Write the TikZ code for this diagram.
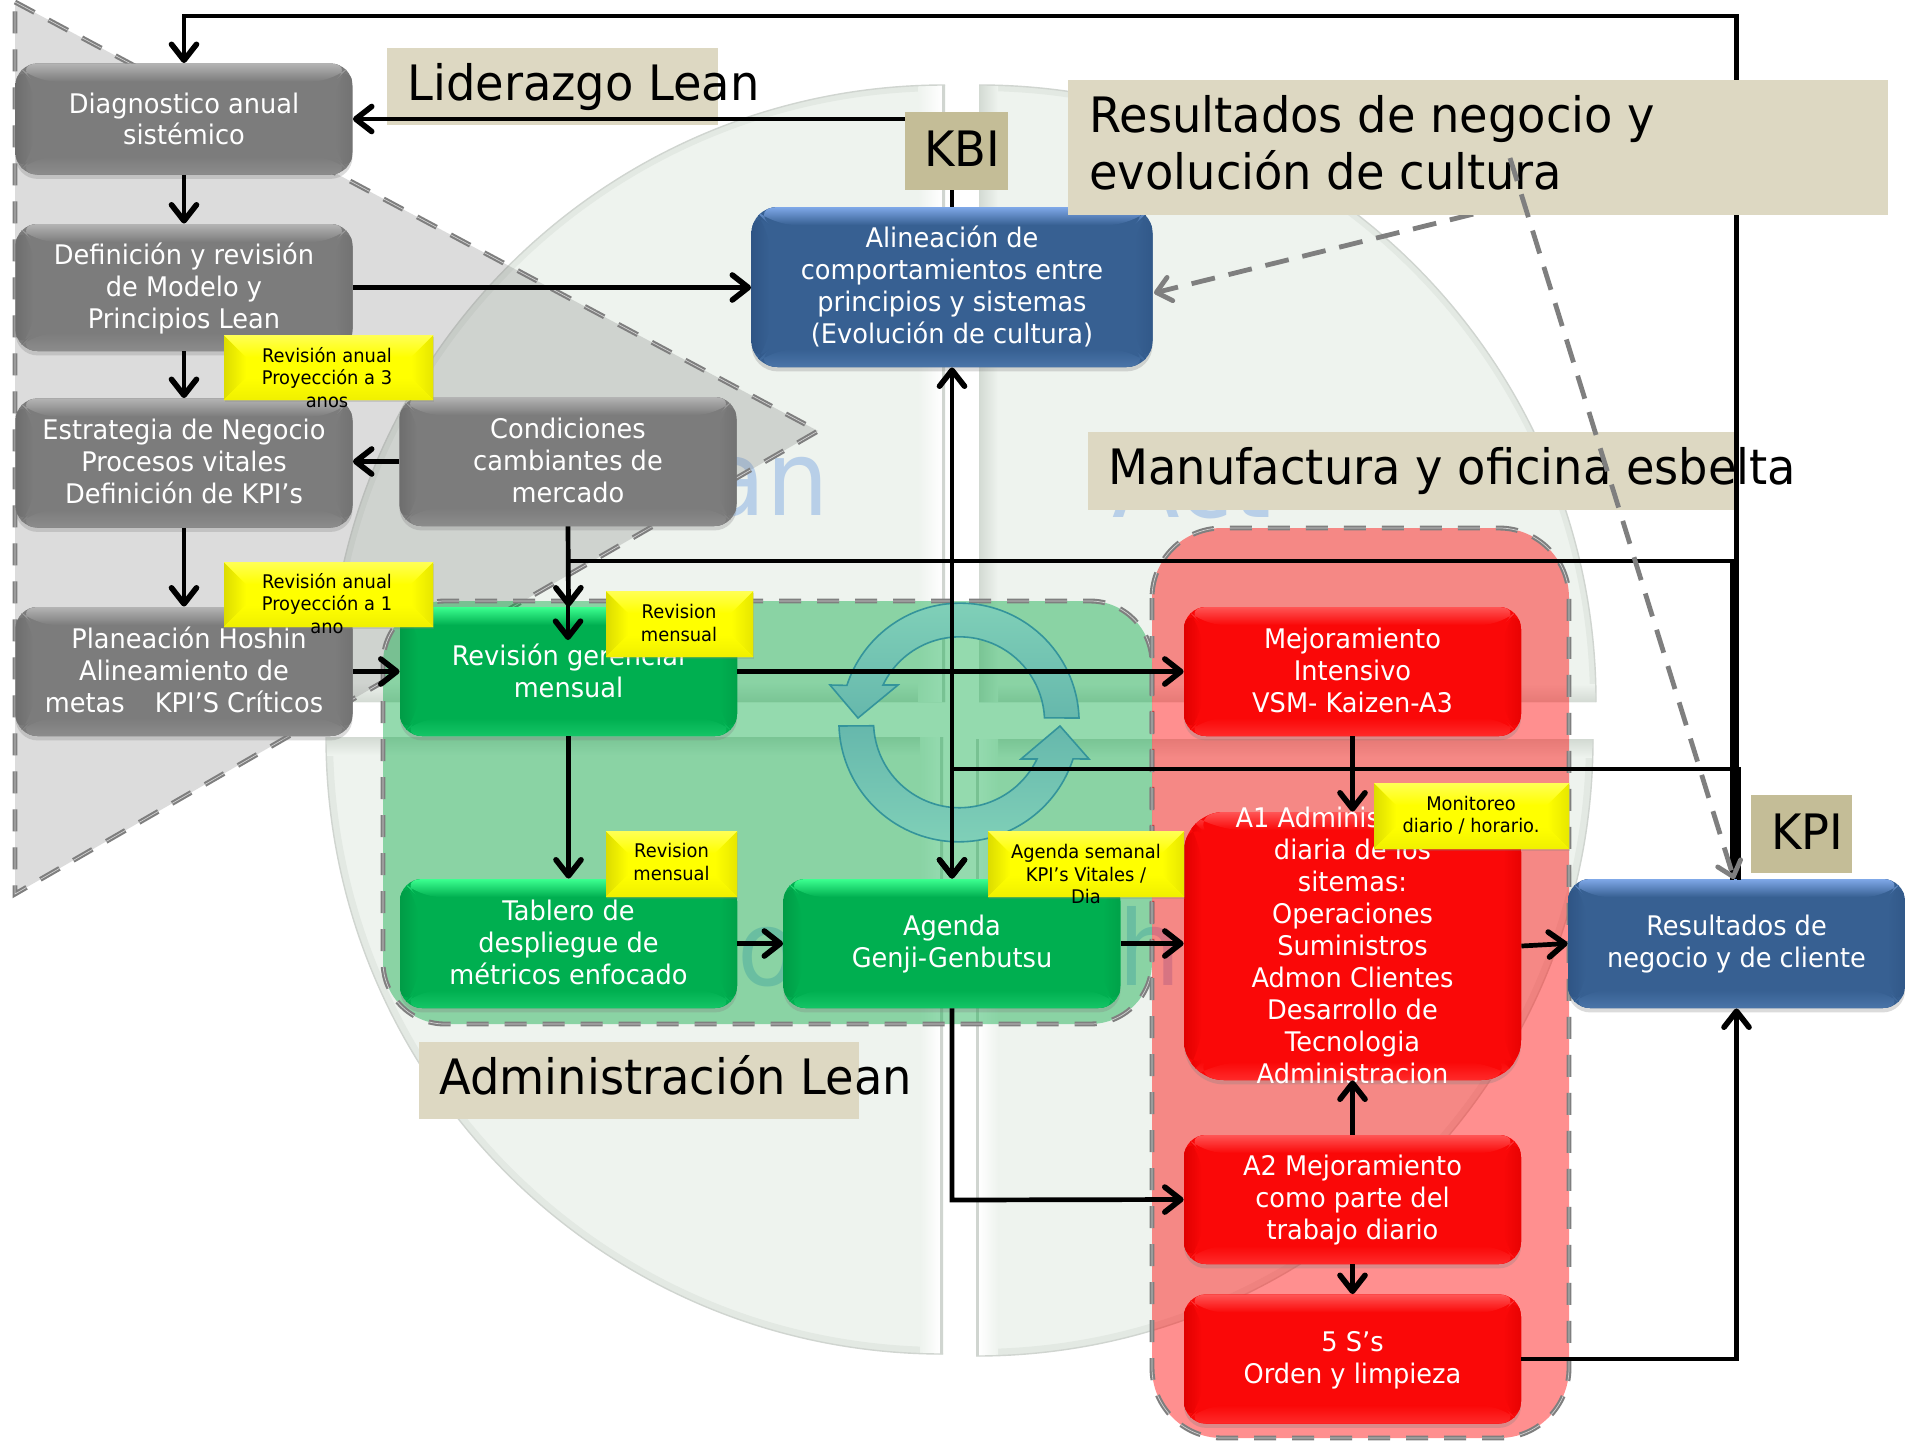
\documentclass[tikz,border=0pt]{standalone}
\usepackage{fontspec}
\setmainfont[FakeStretch=0.95]{DejaVu Sans}
\usetikzlibrary{arrows.meta,shadows,calc}
\definecolor{qf}{HTML}{EEF3EE}
\definecolor{qedge}{HTML}{D0D5D0}
\definecolor{qband}{HTML}{D3DAD3}
\definecolor{faint}{HTML}{B8CFE8}
\definecolor{dashgray}{HTML}{7F7F7F}
\definecolor{lab}{HTML}{DDD8C2}
\definecolor{kab}{HTML}{C4BD97}
\definecolor{grayB}{HTML}{7C7C7C}\definecolor{grayT}{HTML}{B4B4B4}\definecolor{grayS}{HTML}{6E6E6E}\definecolor{grayU}{HTML}{8C8C8C}
\definecolor{blueB}{HTML}{376092}\definecolor{blueT}{HTML}{7FA8E8}\definecolor{blueS}{HTML}{2F5585}\definecolor{blueU}{HTML}{4A74A8}
\definecolor{greenB}{HTML}{00AF50}\definecolor{greenT}{HTML}{3CFF90}\definecolor{greenS}{HTML}{009C46}\definecolor{greenU}{HTML}{14C566}
\definecolor{redB}{HTML}{FA0808}\definecolor{redT}{HTML}{FF5555}\definecolor{redS}{HTML}{E00000}\definecolor{redU}{HTML}{FF2A2A}
\definecolor{yelB}{HTML}{FFFF00}\definecolor{yelT}{HTML}{FFFF55}\definecolor{yelS}{HTML}{DCDC00}\definecolor{yelU}{HTML}{F0F000}
% text block of #1 lines, centred on the node, moved up by #2 pt
\newcommand\bt[3]{\smash{\raisebox{\dimexpr#2pt-3.2pt+8pt*\numexpr#1-1\relax\relax}{\begin{tabular}[t]{@{}c@{}}#3\end{tabular}}}}
\tikzset{
  bevel/.style n args={5}{path picture={
    \coordinate (nw) at (path picture bounding box.north west);
    \coordinate (ne) at (path picture bounding box.north east);
    \coordinate (sw) at (path picture bounding box.south west);
    \coordinate (se) at (path picture bounding box.south east);
    \fill[left color=#3,right color=#1] (nw)--(sw)--([shift={(#5,#5)}]sw)--([shift={(#5,-#5)}]nw)--cycle;
    \fill[right color=#3!70!#1,left color=#1] (ne)--(se)--([shift={(-#5,#5)}]se)--([shift={(-#5,-#5)}]ne)--cycle;
    \fill[top color=#2,bottom color=#1] (nw)--(ne)--([shift={(-#5,-#5)}]ne)--([shift={(#5,-#5)}]nw)--cycle;
    \fill[bottom color=#4,top color=#1] (sw)--(se)--([shift={(-#5,#5)}]se)--([shift={(#5,#5)}]sw)--cycle;
  }},
  boxbase/.style={rounded corners=11pt,minimum width=168.5pt,minimum height=64.5pt,inner sep=0pt,
    text=white,font=\fontsize{13.5}{16}\selectfont,
    drop shadow={opacity=.28,shadow xshift=0pt,shadow yshift=-2.2pt}},
  graybox/.style={boxbase,fill=grayB,bevel={grayB}{grayT}{grayS}{grayU}{9pt}},
  bluebox/.style={boxbase,fill=blueB,bevel={blueB}{blueT}{blueS}{blueU}{9pt}},
  greenbox/.style={boxbase,fill=greenB,bevel={greenB}{greenT}{greenS}{greenU}{9pt}},
  redbox/.style={boxbase,fill=redB,bevel={redB}{redT}{redS}{redU}{9pt}},
  notebox/.style={rectangle,fill=yelB,inner sep=0pt,bevel={yelB}{yelT}{yelS}{yelU}{11pt},
    drop shadow={opacity=.25,shadow xshift=.6pt,shadow yshift=-.8pt}},
  notetext/.style={align=center,inner sep=0pt,font=\fontsize{9.4}{11.25}\selectfont,text=black},
  labelbox/.style={rectangle,fill=lab,inner sep=0pt},
  keybox/.style={rectangle,fill=kab,inner sep=0pt,font=\fontsize{24.4}{28.5}\selectfont},
  bigtext/.style={inner sep=0pt,align=left,font=\fontsize{24.4}{28.5}\selectfont,text=black},
  faintword/.style={inner sep=0pt,text=faint,font=\fontsize{52}{60}\selectfont},
  regionedge/.style={draw=dashgray,line width=1.05pt,double=black!18,double distance=.35pt,dash pattern=on 11pt off 8pt},
  headtip/.tip={Straight Barb[length=8pt,width=12.5pt,round,line width=2.8pt]},
  conn/.style={draw=black,line width=2.35pt,-headtip},
  plainline/.style={draw=black,line width=2.35pt},
  dashconn/.style={draw=dashgray,line width=2.4pt,dash pattern=on 12pt off 7pt,-{Straight Barb[length=7pt,width=12pt,round]}},
  qTL/.style={insert path={(945,85) arc[start angle=90,end angle=180,radius=308.5pt] -- (945,702) -- cycle}},
  qTR/.style={insert path={(979,85) arc[start angle=90,end angle=0,radius=308.5pt] -- (979,702) -- cycle}},
  qBL/.style={insert path={(326,737) arc[start angle=180,end angle=270,radius=308.5pt] -- (943,737) -- cycle}},
  qBR/.style={insert path={(976,1356) arc[start angle=270,end angle=360,radius=308.5pt] -- (976,739) -- cycle}},
}
\begin{document}
\begin{tikzpicture}[x=0.5pt,y=-0.5pt]
\useasboundingbox (0,0) rectangle (1905,1440);
\fill[white] (0,0) rectangle (1905,1440);
% ---------- background quadrants
\begin{scope}
  \clip[qTL];
  \fill[qf,qTL];
  \draw[qband!40!qf,line width=6pt,qTL];
  \shade[top color=qf,bottom color=qband] (300,682) rectangle (945,702);
  \shade[left color=qf,right color=white] (918,85) rectangle (942,702);
  \fill[qedge] (942,85) rectangle (945,702);
\end{scope}
\draw[qedge,line width=.7pt] (945,85) arc[start angle=90,end angle=180,radius=308.5pt];
\begin{scope}
  \clip[qTR];
  \fill[qf,qTR];
  \draw[qband!40!qf,line width=6pt,qTR];
  \shade[top color=qf,bottom color=qband] (979,684) rectangle (1600,702);
  \shade[left color=qband,right color=qf] (979,85) rectangle (998,702);
\end{scope}
\draw[qedge,line width=.7pt] (979,85) arc[start angle=90,end angle=0,radius=308.5pt];
\begin{scope}
  \clip[qBL];
  \fill[qf,qBL];
  \draw[qband!40!qf,line width=7pt,qBL];
  \shade[top color=qband,bottom color=qf] (320,737) rectangle (943,755);
  \shade[left color=qf,right color=white] (920,737) rectangle (940,1356);
  \fill[qedge] (940,737) rectangle (943,1356);
\end{scope}
\draw[qedge,line width=.7pt] (326,737) arc[start angle=180,end angle=270,radius=308.5pt];
\begin{scope}
  \clip[qBR];
  \fill[qf,qBR];
  \draw[qband!40!qf,line width=7pt,qBR];
  \shade[top color=qband,bottom color=qf] (976,739) rectangle (1600,757);
  \shade[left color=white,right color=qf] (979,739) rectangle (998,1356);
  \fill[qedge] (976,739) rectangle (979,1356);
\end{scope}
\draw[qedge,line width=.7pt] (976,1356) arc[start angle=270,end angle=360,radius=308.5pt];
% ---------- faint words
\node[faintword,anchor=base east] (wplan) at (829,515) {Plan};
\node[faintword,anchor=base west] (wact) at (1112,517) {Act};
\node[faintword,anchor=base east] (wdo) at (798,985) {Do};
\node[faintword,anchor=base west] (wcheck) at (1049,985) {Check};
% ---------- regions
\path[fill=dashgray,fill opacity=.27] (15,2) -- (818,431) -- (15,894) -- cycle;
\draw[regionedge] (15,2) -- (818,431) -- (15,894) -- cycle;
\draw[regionedge,fill={rgb,255:red,0;green,168;blue,64},fill opacity=.42,rounded corners=31pt] (383,601) rectangle (1152,1024);
\draw[regionedge,fill=red,fill opacity=.44,rounded corners=35pt] (1152,528) rectangle (1569,1438);
% ---------- cycle arrows
\definecolor{cyT}{HTML}{80D0B8}\definecolor{cyB}{HTML}{66B8AC}\definecolor{cyE}{HTML}{34949B}
\draw[cyE,line width=.8pt,top color=cyT,bottom color=cyB]
  (1079,718) arc[start angle=2,end angle=162,radius=59.5pt] -- (830,685) -- (858,718) -- (898,685) -- (883,685)
  arc[start angle=154.3,end angle=2.7,radius=42.5pt] -- cycle;
\draw[cyE,line width=.8pt,top color=cyB,bottom color=cyT]
  (839,726) arc[start angle=182,end angle=342,radius=60pt] -- (1089,759) -- (1060,726) -- (1021,759) -- (1037,759)
  arc[start angle=334.3,end angle=182.7,radius=43pt] -- cycle;
% ---------- labels behind connectors
\node[labelbox,minimum width=165.5pt,minimum height=38.5pt] (llid) at (552.5,86.5) {};
\node[bigtext,anchor=west] (tlid) at (407,87) {Liderazgo Lean};
\node[labelbox,minimum width=324pt,minimum height=39pt] (lman) at (1412,471) {};
\node[bigtext,anchor=west] (tman) at (1108,471) {Manufactura y oficina esbelta};
\node[labelbox,minimum width=220pt,minimum height=38.5pt] (ladm) at (639,1080.5) {};
\node[bigtext,anchor=west] (tadm) at (439,1075) {Administración Lean};
\node[keybox,minimum width=51.5pt,minimum height=39pt] (kbi) at (956.5,151) {\hspace{6pt}\raisebox{2.5pt}{KBI}};
\node[keybox,minimum width=50.5pt,minimum height=39pt] (kpi) at (1801.5,834) {\hspace{6pt}\raisebox{2.5pt}{KPI}};
% ---------- boxes
\node[graybox,minimum height=55.5pt] (diag) at (184,119) {\bt{2}{-1.8}{Diagnostico anual\\sistémico}};
\node[graybox,minimum height=63.5pt] (defi) at (184,287.5) {\bt{3}{-1.2}{Definición y revisión\\de Modelo y\\Principios Lean}};
\node[graybox] (estr) at (184,463) {\bt{3}{-1.2}{Estrategia de Negocio\\Procesos vitales\\Definición de KPI’s}};
\node[graybox] (cond) at (568,461.5) {\bt{3}{-1.2}{Condiciones\\cambiantes de\\mercado}};
\node[graybox] (plan) at (184,671.5) {\bt{3}{-1.2}{\hspace*{5pt}Planeación Hoshin\\Alineamiento de\\metas\hspace{15pt}KPI’S Críticos}};
\node[greenbox] (revi) at (568.5,671.5) {\bt{2}{-1.8}{Revisión gerencial\\mensual}};
\node[greenbox] (tabl) at (568.5,943.5) {\bt{3}{-1.2}{Tablero de\\despliegue de\\métricos enfocado}};
\node[greenbox] (agen) at (952,943.5) {\bt{2}{-.6}{Agenda\\Genji-Genbutsu}};
\node[bluebox,minimum width=200.5pt,minimum height=80pt,rounded corners=13pt] (alin) at (952,287) {\bt{4}{-1.2}{Alineación de\\comportamientos entre\\principios y sistemas\\(Evolución de cultura)}};
\node[redbox] (mejo) at (1352.5,671.5) {\bt{3}{-1.2}{Mejoramiento\\Intensivo\\VSM- Kaizen-A3}};
\node[redbox,minimum height=134pt,rounded corners=20pt] (aone) at (1352.5,946) {\bt{9}{-1.4}{A1 Administración\\diaria de los\\sitemas:\\Operaciones\\Suministros\\Admon Clientes\\Desarrollo de\\Tecnologia\\Administracion}};
\node[redbox] (atwo) at (1352.5,1199.5) {\bt{3}{-.6}{A2 Mejoramiento\\como parte del\\trabajo diario}};
\node[redbox] (cinc) at (1352.5,1359) {\bt{2}{-1.2}{5 S’s\\Orden y limpieza}};
\node[bluebox] (resu) at (1736.5,943.5) {\bt{2}{-.6}{Resultados de\\negocio y de cliente}};
% ---------- connector corners
\coordinate (topR) at (1736.5,16);
\coordinate (topL) at (184,16);
\coordinate (midR) at (1732,561);
\coordinate (midL) at (568,561);
\coordinate (midEnd) at (568,640);
\coordinate (lowR) at (1739,769);
\coordinate (lowL) at (952,769);
\coordinate (rB) at (1732,880);
\coordinate (rC) at (1739,880);
\coordinate (a2L) at (952,1200);
\coordinate (s5R) at (1736.5,1359);
% ---------- connectors
\draw[conn] (resu.north) -- (topR) -- (topL) -- (diag.north);
\draw[conn] (rB) -- (midR) -- (midL) -- (midEnd);
\draw[conn] (rC) -- (lowR) -- (lowL) -- (agen.north);
\draw[plainline] (alin.north) -- (alin.north |- kbi.south);
\draw[conn] (kbi.west |- diag.east) -- (diag.east);
\draw[conn] (diag.south) -- (defi.north);
\draw[conn] (defi.south) -- (estr.north);
\draw[conn] (estr.south) -- (plan.north);
\draw[conn] (cond.west) -- (cond.west -| estr.east);
\draw[conn] (cond.south) -- (revi.north);
\draw[conn] (defi.east) -- (defi.east -| alin.west);
\draw[conn] (plan.east) -- (revi.west);
\draw[conn] (revi.east) -- (mejo.west);
\draw[conn] (revi.south) -- (tabl.north);
\draw[conn] (tabl.east) -- (agen.west);
\draw[conn] (agen.east) -- (agen.east -| aone.west);
\draw[conn] (agen.south) -- (a2L) -- (atwo.west);
\draw[conn] (mejo.south) -- (aone.north);
\draw[conn] (atwo.north) -- (aone.south);
\draw[conn] (atwo.south) -- (cinc.north);
\draw[conn] (aone.east) -- (resu.west);
\draw[conn] (cinc.east) -- (s5R) -- (resu.south);
\draw[conn,headtip-headtip] (alin.south) -- (agen.north);
% ---------- notes
\node[notebox,minimum width=104.5pt,minimum height=32.5pt] (nA) at (328.5,367.5) {};
\node[notetext] (nAt) at (327,377.5) {Revisión anual\\Proyección a 3\\anos};
\node[notebox,minimum width=104.5pt,minimum height=32.5pt] (nB) at (328.5,594.5) {};
\node[notetext] (nBt) at (327,603.5) {Revisión anual\\Proyección a 1\\ano};
\node[notebox,minimum width=73.5pt,minimum height=33pt] (nC) at (679.5,624) {};
\node[notetext] (nCt) at (679,623) {Revision\\mensual};
\node[notebox,minimum width=65.5pt,minimum height=33pt] (nD) at (671.5,864) {};
\node[notetext] (nDt) at (671.5,862) {Revision\\mensual};
\node[notebox,minimum width=98pt,minimum height=33pt] (nE) at (1086,864) {};
\node[notetext] (nEt) at (1086,874) {Agenda semanal\\KPI’s Vitales /\\Dia};
\node[notebox,minimum width=97.5pt,minimum height=33pt] (nF) at (1471.5,816) {};
\node[notetext] (nFt) at (1471,815) {Monitoreo\\diario / horario.};
% ---------- top label and dashed links
\coordinate (dashStart) at (1510,205);
\coordinate (dashTip) at (1154,293);
\draw[dashconn] (dashStart) -- (dashTip);
\node[labelbox,minimum width=410pt,minimum height=67.5pt] (lres) at (1478,147.5) {};
\node[bigtext,anchor=west] (tres) at (1089,143) {Resultados de negocio y\\evolución de cultura};
\coordinate (dashTop) at (1510,158);
\coordinate (dashEnd) at (1734,879);
\draw[dashconn] (dashTop) -- (dashEnd);
\end{tikzpicture}
\end{document}
